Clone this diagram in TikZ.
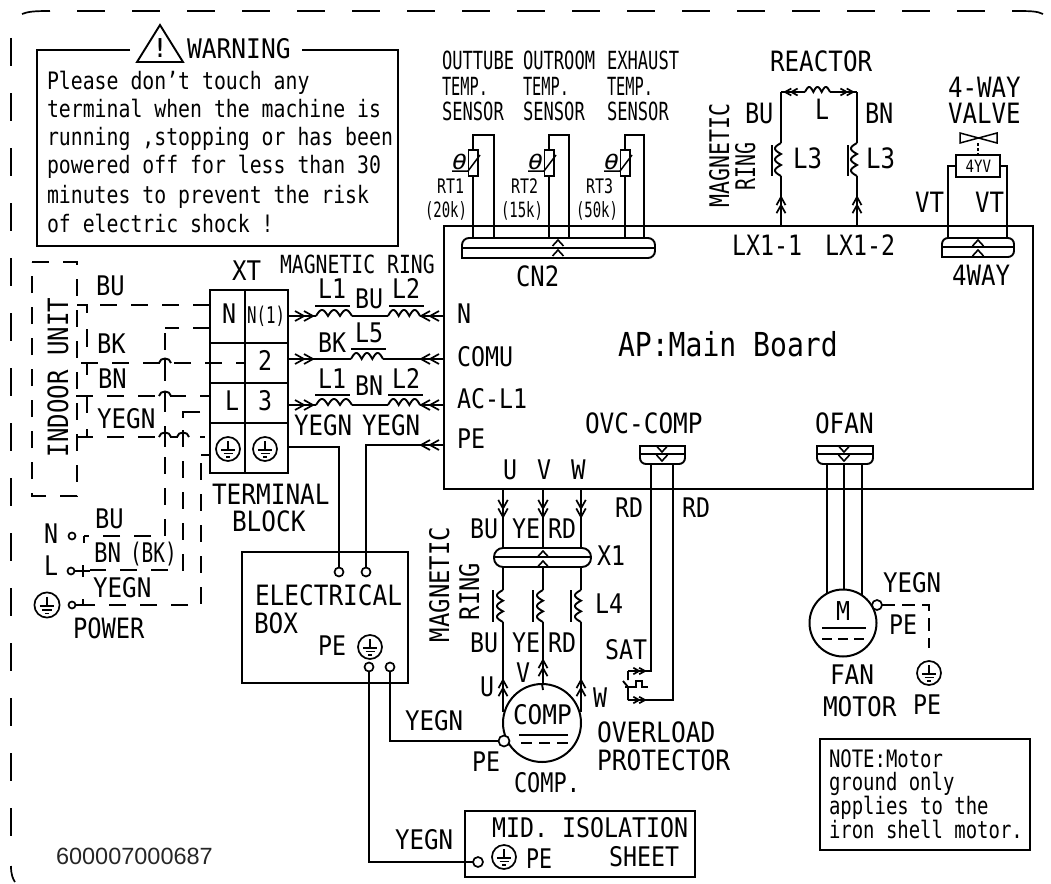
\documentclass[tikz,border=0pt]{standalone}
\usepackage{fontspec}
\usepackage{graphicx}
\setmainfont{DejaVu Sans Mono}
\newfontfamily\codefont{Liberation Sans}
\newcounter{lb}
\newcommand\lab[6][0]{\stepcounter{lb}\pgfmathsetmacro\sxx{#5/(0.602*#4)}%
  \node[lbl,rotate=#1] (t\thelb) at (#2,#3) {\scalebox{\sxx}[1]{\fontsize{#4}{#4}\selectfont #6}};}
\newcommand\boxn[5]{\pgfmathsetmacro\bw{#4-#2}\pgfmathsetmacro\bh{#5-#3}%
  \pgfmathsetmacro\bx{(#2+#4)/2}\pgfmathsetmacro\by{(#3+#5)/2}%
  \node[boxst,minimum width=\bw pt,minimum height=\bh pt] (#1) at (\bx,\by) {};}
% horizontal coil: x1,x2,y,humps,height (humps upward)
\newcommand\coilh[5]{\draw[wire] plot[domain=0:1,samples=61,variable=\t] ({#1+(#2-#1)*\t},{#3-#5*abs(sin(180*#4*\t))});}
% vertical coil: x,y1,y2,humps,depth (humps to the left)
\newcommand\coilv[5]{\draw[wire] plot[domain=0:1,samples=61,variable=\t] ({#1-#5*abs(sin(180*#4*\t))},{#2+(#3-#2)*\t});}
% hop of a horizontal dashed wire over a vertical one: x,y
\newcommand\hop[2]{\draw[white,line width=3pt] (#1-5,#2) -- (#1+5,#2);
  \draw[wire] (#1,#2-4) -- (#1,#2+10);
  \draw[wire] (#1-6,#2) .. controls (#1-5,#2-6) and (#1+5,#2-6) .. (#1+6,#2);}
\tikzset{
  wire/.style={line width=1.9pt,line join=miter},
  thinw/.style={line width=1.5pt},
  dwire/.style={line width=1.9pt,dash pattern=on 17pt off 14pt},
  framest/.style={line width=1.7pt,dash pattern=on 28pt off 27pt},
  lbl/.style={inner sep=0pt,outer sep=0pt,anchor=base west},
  boxst/.style={draw,line width=2pt,inner sep=0pt,outer sep=0pt,rectangle},
  term/.style={circle,draw,fill=white,line width=1.7pt,inner sep=0pt,outer sep=0pt},
  dchev/.pic={\draw[line width=1.7pt] (-9,-5)--(0,0)--(-9,5) (-18,-5)--(-9,0)--(-18,5);},
  schev/.pic={\draw[line width=1.6pt] (-6,-5.5)--(0,0)--(-6,5.5);},
  gnd/.pic={\draw[line width=1.7pt] (0,0) circle[radius=12];
    \draw[line width=1.7pt] (0,-8)--(0,1) (-7,1)--(7,1) (-4.5,4.5)--(4.5,4.5) (-2,8)--(2,8);},
}
\begin{document}
\begin{tikzpicture}[x=1pt,y=-1pt]
\useasboundingbox (0,0) rectangle (1051,883);
% outer frame
\draw[line width=1.7pt] (22,14) .. controls (28,11.5) and (35,11) .. (50,11);
\draw[framest] (77,11) -- (1013,11);
\draw[line width=1.7pt] (1013,11) .. controls (1030,11) and (1037,11) .. (1043,14);
\draw[framest] (11,38) -- (11,840);
\draw[line width=1.7pt] (11,866) .. controls (11,875) and (13,879) .. (15,882);
% warning box
\coordinate (wa) at (130,50); \coordinate (wb) at (302,50);
\coordinate (wtl) at (37,50); \coordinate (wtr) at (398,50);
\coordinate (wbl) at (37,246); \coordinate (wbr) at (398,246);
\draw[wire] (wa) -- (wtl) -- (wbl) -- (wbr) -- (wtr) -- (wb);
\coordinate (triA) at (160,25); \coordinate (triB) at (137,62); \coordinate (triC) at (183,62);
\draw[wire,line join=miter] (triA) -- (triB) -- (triC) -- cycle;
\lab{153.5}{58}{26}{13}{\bfseries !}
\lab{187}{59}{27}{14.8}{WARNING}
\lab{47}{89}{24}{11.93}{Please don't touch any}
\lab{47}{117}{24}{11.93}{terminal when the machine is}
\lab{47}{145}{24}{11.93}{running ,stopping or has been}
\lab{47}{173}{24}{11.93}{powered off for less than 30}
\lab{47}{203}{24}{11.93}{minutes to prevent the risk}
\lab{47}{232}{24}{11.93}{of electric shock !}
% main board
\boxn{board}{444}{226}{1033}{489}
% sensors
\foreach \xl/\xr/\n in {473/494/a,549/569/b,625/644/c}{
  \coordinate (s\n bl) at (\xl,238); \coordinate (s\n tl) at (\xl,135);
  \coordinate (s\n tr) at (\xr,135); \coordinate (s\n br) at (\xr,238);
  \draw[wire] (s\n bl) -- (s\n tl) -- (s\n tr) -- (s\n br);
  \draw[wire,fill=white] (\xl-4.5,150) rectangle (\xl+5,176);
  \draw[thinw] (\xl-21,171) -- (\xl-5,171) -- (\xl+7,155);
  \lab{\xl-21}{169}{21}{15}{\itshape θ}
}
\lab{442}{70}{25}{10.3}{OUTTUBE}
\lab{442}{95}{25}{9.2}{TEMP.}
\lab{442}{120}{25}{10.3}{SENSOR}
\lab{523}{70}{25}{10.3}{OUTROOM}
\lab{523}{95}{25}{9.2}{TEMP.}
\lab{523}{120}{25}{10.3}{SENSOR}
\lab{607}{70}{25}{10.3}{EXHAUST}
\lab{607}{95}{25}{9.2}{TEMP.}
\lab{607}{120}{25}{10.3}{SENSOR}
\lab{437}{193}{20}{9}{RT1}
\lab{425}{217}{21}{8.4}{(20k)}
\lab{511}{193}{20}{9}{RT2}
\lab{501}{217}{21}{8.4}{(15k)}
\lab{586}{193}{20}{9}{RT3}
\lab{576}{217}{21}{8.4}{(50k)}
% CN2
\draw[wire] (462,258) [rounded corners=7pt] -- (462,238) -- (655,238) -- (655,258) [sharp corners] -- cycle;
\draw[wire] (462,248) -- (655,248);
\pic[rotate=90] at (558,240) {schev};
\pic[rotate=90] at (558,250) {schev};
\lab{516}{286}{28}{14.4}{CN2}
% reactor
\lab{770}{71}{28}{14.6}{REACTOR}
\coordinate (rl) at (781,92); \coordinate (rr) at (857,92);
\coordinate (rcl) at (805,92); \coordinate (rcr) at (830,92);
\coordinate (lx1) at (781,226); \coordinate (lx2) at (857,226);
\draw[wire] (rl) -- (rcl) (rcr) -- (rr);
\coilh{805}{830}{92}{3}{5}
\pic[rotate=180,scale=.7] at (785,92) {dchev};
\pic[scale=.7] at (853,92) {dchev};
\draw[wire] (rl) -- (781,143) (781,176) -- (lx1);
\draw[wire] (rr) -- (857,143) (857,176) -- (lx2);
\coilv{781}{143}{176}{3}{6}
\coilv{857}{143}{176}{3}{6}
\draw[wire] (772,145) -- (772,176) (848,145) -- (848,176);
\pic[rotate=90,scale=.9] at (781,197) {dchev};
\pic[rotate=90,scale=.9] at (857,197) {dchev};
\lab{745}{123}{28}{14.2}{BU}
\lab{815}{119}{28}{14}{L}
\lab{865}{123}{28}{14.2}{BN}
\lab{793}{168}{28}{14.5}{L3}
\lab{866}{168}{28}{14.5}{L3}
\lab[90]{729}{207}{27}{13}{MAGNETIC}
\lab[90]{755}{190}{27}{12}{RING}
\lab{732}{255}{28}{14}{LX1-1}
\lab{825}{255}{28}{14}{LX1-2}
% 4-way valve
\lab{948}{97}{28}{14.5}{4-WAY}
\lab{948}{123}{28}{14.5}{VALVE}
\draw[thinw,line join=miter] (960,133) -- (997,143) -- (997,133) -- (960,143) -- cycle;
\node[boxst,minimum width=44pt,minimum height=22pt] (yv) at (978,166) {};
\lab{965.5}{172.5}{17}{8.5}{4YV}
\draw[thinw,dash pattern=on 3pt off 2pt] (978,143) -- (yv.north);
\coordinate (vl) at (948,238); \coordinate (vr) at (1007,238);
\draw[wire] (yv.west) -| (vl);
\draw[wire] (yv.east) -| (vr);
\draw[wire] (942,257) [rounded corners=6pt] -- (942,238) -- (1014,238) -- (1014,257) [sharp corners] -- cycle;
\draw[wire] (942,247) -- (1014,247);
\pic[rotate=90] at (978,240) {schev};
\pic[rotate=90] at (978,250) {schev};
\lab{915}{212}{28}{14.5}{VT}
\lab{975}{212}{28}{14.5}{VT}
\lab{952}{285}{28}{14.5}{4WAY}
% board labels
\lab{457}{323}{27}{14}{N}
\lab{457}{366}{27}{14}{COMU}
\lab{457}{408}{27}{14}{AC-L1}
\lab{457}{448}{27}{14}{PE}
\lab{618}{356}{33}{16.9}{AP:Main Board}
\lab{585}{433}{28}{14.7}{OVC-COMP}
\lab{815}{433}{28}{14.7}{OFAN}
\lab{503}{479}{27}{14}{U}
\lab{537}{479}{27}{14}{V}
\lab{571}{479}{27}{14.5}{W}
% terminal block
\node[boxst,minimum width=78pt,minimum height=183pt] (xt) at (249,381.5) {};
\draw[wire] (245,290) -- (245,473) (210,343) -- (288,343) (210,383) -- (288,383) (210,423) -- (288,423);
\lab{232}{280}{27}{14.5}{XT}
\lab{280}{273}{25}{11.9}{MAGNETIC RING}
\lab{222}{323}{27}{14}{N}
\lab{247}{323}{23}{9.5}{N(1)}
\lab{258}{370}{27}{14}{2}
\lab{225}{410}{27}{14}{L}
\lab{258}{410}{27}{14}{3}
\pic at (228,449) {gnd};
\pic at (265,449) {gnd};
\lab{212}{504}{28}{14.7}{TERMINAL}
\lab{232}{531}{28}{14.7}{BLOCK}
% power wires from terminal block to board
\coordinate (xn) at (288,316); \coordinate (bn) at (444,316);
\coordinate (x2) at (288,359); \coordinate (b2) at (444,359);
\coordinate (x3) at (288,405); \coordinate (b3) at (444,405);
\draw[wire] (xn) -- (316,316) (352,316) -- (388,316) (420,316) -- (bn);
\coilh{316}{352}{316}{3}{6}
\coilh{388}{420}{316}{3}{6}
\draw[wire] (x2) -- (351,359) (383,359) -- (b2);
\coilh{351}{383}{359}{3}{6}
\draw[wire] (x3) -- (316,405) (352,405) -- (388,405) (420,405) -- (b3);
\coilh{316}{352}{405}{3}{6}
\coilh{388}{420}{405}{3}{6}
\foreach \y in {316,359,405}{
  \pic at (313,\y) {dchev};
  \pic[rotate=180] at (421,\y) {dchev};
}
\draw[wire] (315,306) -- (350,306) (389,306) -- (424,306) (351,349) -- (386,349) (315,395) -- (350,395) (388,395) -- (423,395);
\lab{318}{298}{27}{14}{L1}
\lab{355}{308}{27}{14}{BU}
\lab{392}{298}{27}{14}{L2}
\lab{318}{352}{27}{14}{BK}
\lab{355}{342}{27}{14}{L5}
\lab{318}{388}{27}{14}{L1}
\lab{355}{395}{27}{14}{BN}
\lab{392}{388}{27}{14}{L2}
\lab{294}{435}{28}{14.5}{YEGN}
\lab{362}{435}{28}{14.5}{YEGN}
% PE wires and electrical box
\boxn{ebox}{242}{552}{408}{683}
\node[term,minimum size=9pt] (e1) at (339,572) {};
\node[term,minimum size=9pt] (e2) at (366,572) {};
\node[term,minimum size=9pt] (e3) at (369,667) {};
\node[term,minimum size=9pt] (e4) at (390,667) {};
\coordinate (xg) at (288,447); \coordinate (bpe) at (444,445);
\draw[wire] (xg) -| (e1.north);
\draw[wire] (bpe) -| (e2.north);
\pic[rotate=180] at (421,445) {dchev};
\lab{255}{605}{28}{14.7}{ELECTRICAL}
\lab{254}{633}{28}{14.7}{BOX}
\lab{318}{655}{27}{14}{PE}
\pic at (370,647) {gnd};
% indoor unit & dashed wiring
\draw[dwire] (32,262) -- (77,262) -- (77,496) -- (32,496) -- cycle;
\lab[90]{68}{457}{28}{14.5}{INDOOR UNIT}
\coordinate (inA) at (77,305); \coordinate (xtA) at (210,305);
\draw[wire] (inA) -- (87,305) -- (87,313);
\draw[dwire] (100,305) -- (xtA);
\draw[wire] (87,329) -- (87,347) (87,363) -- (87,375) (87,396) -- (87,413) (87,429) -- (87,437);
\draw[dwire] (81,363) -- (245,363);
\draw[dwire] (76,396) -- (210,396);
\draw[dwire] (76,437) -- (205,437);
\coordinate (xtB) at (210,328); \coordinate (xtC) at (200,412); \coordinate (xtD) at (210,455);
\node[term,minimum size=7pt] (pn) at (72,536) {};
\node[term,minimum size=7pt] (pl) at (71,571) {};
\node[term,minimum size=7pt] (pg) at (72,605) {};
\draw[dwire] (xtB) -- (165,328);
\draw[dwire] (165,333) -- (165,536) -- (84,536);
\draw[wire] (xtC) -- (183,412) -- (183,418);
\draw[dwire] (183,430) -- (183,570) -- (90,570);
\draw[wire] (xtD) -- (201,455);
\draw[dwire] (201,463) -- (201,605) -- (90,605);
\hop{165}{363}
\hop{165}{396}
\hop{165}{437}
\hop{183}{437}
\draw[wire] (pl) -- (90,571) (83,565) -- (83,577);
\draw[wire] (pg) -- (90,605) (83,599) -- (83,605);
\draw[wire] (84,536) -- (84,543);
\pic[scale=1.05] at (47,605) {gnd};
\lab{96}{295}{27}{14.3}{BU}
\lab{97}{353}{27}{14.3}{BK}
\lab{98}{388}{27}{14.3}{BN}
\lab{97}{428}{27}{14.6}{YEGN}
\lab{44}{543}{27}{14}{N}
\lab{44}{575}{27}{14}{L}
\lab{95}{528}{27}{14.3}{BU}
\lab{94}{562}{27}{13.5}{BN}
\lab{130}{562}{27}{11.7}{(BK)}
\lab{93}{597}{27}{14.6}{YEGN}
\lab{73}{638}{28}{14.3}{POWER}
% U V W and X1
\foreach \x/\n in {503/u,543/v,581/w}{
  \coordinate (b\n) at (\x,489); \coordinate (xt\n) at (\x,548);
  \draw[wire] (b\n) -- (xt\n);
  \pic[rotate=270,scale=.95] at (\x,517) {dchev};
  \draw[wire] (\x,567) -- (\x,590) (\x,622) -- (\x,690);
  \coilv{\x}{590}{622}{3}{6}
  \draw[wire] (\x-10,590) -- (\x-10,622);
}
\draw[wire,fill=white,rounded corners=9pt] (494,548) rectangle (591,567);
\draw[wire] (495,557) -- (590,557);
\pic[rotate=90] at (543,551) {schev};
\pic[rotate=90] at (543,561) {schev};
\lab{597}{565}{27}{14}{X1}
\lab{595}{613}{27}{14}{L4}
\lab{470}{538}{27}{14}{BU}
\lab{512}{538}{27}{14}{YE}
\lab{548}{538}{27}{14}{RD}
\lab{470}{652}{27}{14}{BU}
\lab{512}{652}{27}{14}{YE}
\lab{548}{652}{27}{14}{RD}
\lab[90]{449}{642}{27}{14.4}{MAGNETIC}
\lab[90]{479}{620}{27}{14.3}{RING}
% compressor
\node[circle,draw,line width=2pt,fill=white,minimum size=78pt,inner sep=0pt,outer sep=0pt] (comp) at (542,723) {};
\draw[wire] (503,690) -- (503,712) (581,690) -- (581,712);
\draw[wire] (543,690) -- (comp.north);
\pic[rotate=90,scale=.9] at (503,680) {dchev};
\pic[rotate=90,scale=.9] at (543,660) {dchev};
\pic[rotate=90,scale=.9] at (581,680) {dchev};
\lab{513}{724}{27}{14.7}{COMP}
\draw[wire] (519,735) -- (568,735);
\draw[wire,dash pattern=on 11pt off 7pt] (521,743) -- (568,743);
\node[term,minimum size=11pt] (cpe) at (504,741) {};
\lab{480}{696}{27}{14}{U}
\lab{516}{682}{27}{14}{V}
\lab{593}{707}{27}{14}{W}
\lab{472}{771}{27}{14}{PE}
\lab{514}{792}{27}{13.2}{COMP.}
\lab{405}{730}{27}{14.5}{YEGN}
\lab{597}{742}{28}{14.8}{OVERLOAD}
\lab{597}{770}{28}{14.8}{PROTECTOR}
\draw[wire] (e4.south) |- (cpe.west);
% mid isolation
\boxn{mid}{465}{811}{695}{877}
\node[term,minimum size=10pt] (mc) at (478,862) {};
\draw[wire] (e3.south) |- (mc.west);
\pic at (504,857) {gnd};
\lab{526}{868}{27}{13}{PE}
\lab{492}{837}{27}{14}{MID. ISOLATION}
\lab{609}{866}{27}{14}{SHEET}
\lab{395}{849}{27}{14.5}{YEGN}
\node[lbl] (code) at (56,864) {\fontsize{23.5}{24}\codefont\color{black!85}600007000687};
% OVC connector and overload protector
\draw[wire] (640,446) -- (685,446) [rounded corners=6pt] -- (685,464) -- (640,464) [sharp corners] -- cycle;
\draw[wire] (640,454) -- (685,454);
\pic[rotate=270] at (662,452) {schev};
\pic[rotate=270] at (662,461) {schev};
\coordinate (ova) at (651,464); \coordinate (ovb) at (673,464);
\coordinate (sa) at (628,671); \coordinate (sb) at (628,700);
\draw[wire] (ova) |- (sa);
\draw[wire] (ovb) |- (sb);
\draw[wire] (sa) -- (628,680) (623,681) -- (628,687) -- (sb);
\draw[wire] (625,687) -- (636,687) -- (636,681) -- (642,681) -- (642,687) -- (648,687);
\pic[scale=.65] at (645,671) {dchev};
\pic[scale=.65] at (645,700) {dchev};
\lab{615}{517}{27}{14}{RD}
\lab{682}{517}{27}{14}{RD}
\lab{605}{659}{27}{14}{SAT}
% fan
\draw[wire] (817,446) -- (873,446) [rounded corners=6pt] -- (873,464) -- (817,464) [sharp corners] -- cycle;
\draw[wire] (817,454) -- (873,454);
\pic[rotate=270] at (844,452) {schev};
\pic[rotate=270] at (844,461) {schev};
\node[circle,draw,line width=2pt,minimum size=67pt,inner sep=0pt,outer sep=0pt] (fan) at (843,623) {};
\foreach \x/\yy in {827/594,844/589.5,862/595}{
  \coordinate (fa) at (\x,464); \coordinate (fb) at (\x,\yy);
  \draw[wire] (fa) -- (fb);
}
\lab{836}{620}{26}{14}{M}
\draw[wire] (822,628) -- (866,628);
\draw[wire,dash pattern=on 10pt off 6pt] (822,639) -- (866,639);
\node[term,minimum size=10pt] (fpe) at (877,605) {};
\coordinate (fgnd) at (929,648);
\draw[dwire,dash pattern=on 13pt off 7pt] (fpe.east) -| (fgnd);
\pic at (929,673) {gnd};
\lab{883}{592}{27}{14.5}{YEGN}
\lab{889}{634}{27}{14}{PE}
\lab{913}{714}{27}{14}{PE}
\lab{830}{684}{27}{14.7}{FAN}
\lab{823}{716}{27}{14.7}{MOTOR}
% note
\boxn{note}{820}{739}{1030}{850}
\lab{829}{767}{24}{11.4}{NOTE:Motor}
\lab{829}{790}{24}{11.4}{ground only}
\lab{829}{814}{24}{11.4}{applies to the}
\lab{829}{838}{24}{11.4}{iron shell motor.}
\end{tikzpicture}
\end{document}
